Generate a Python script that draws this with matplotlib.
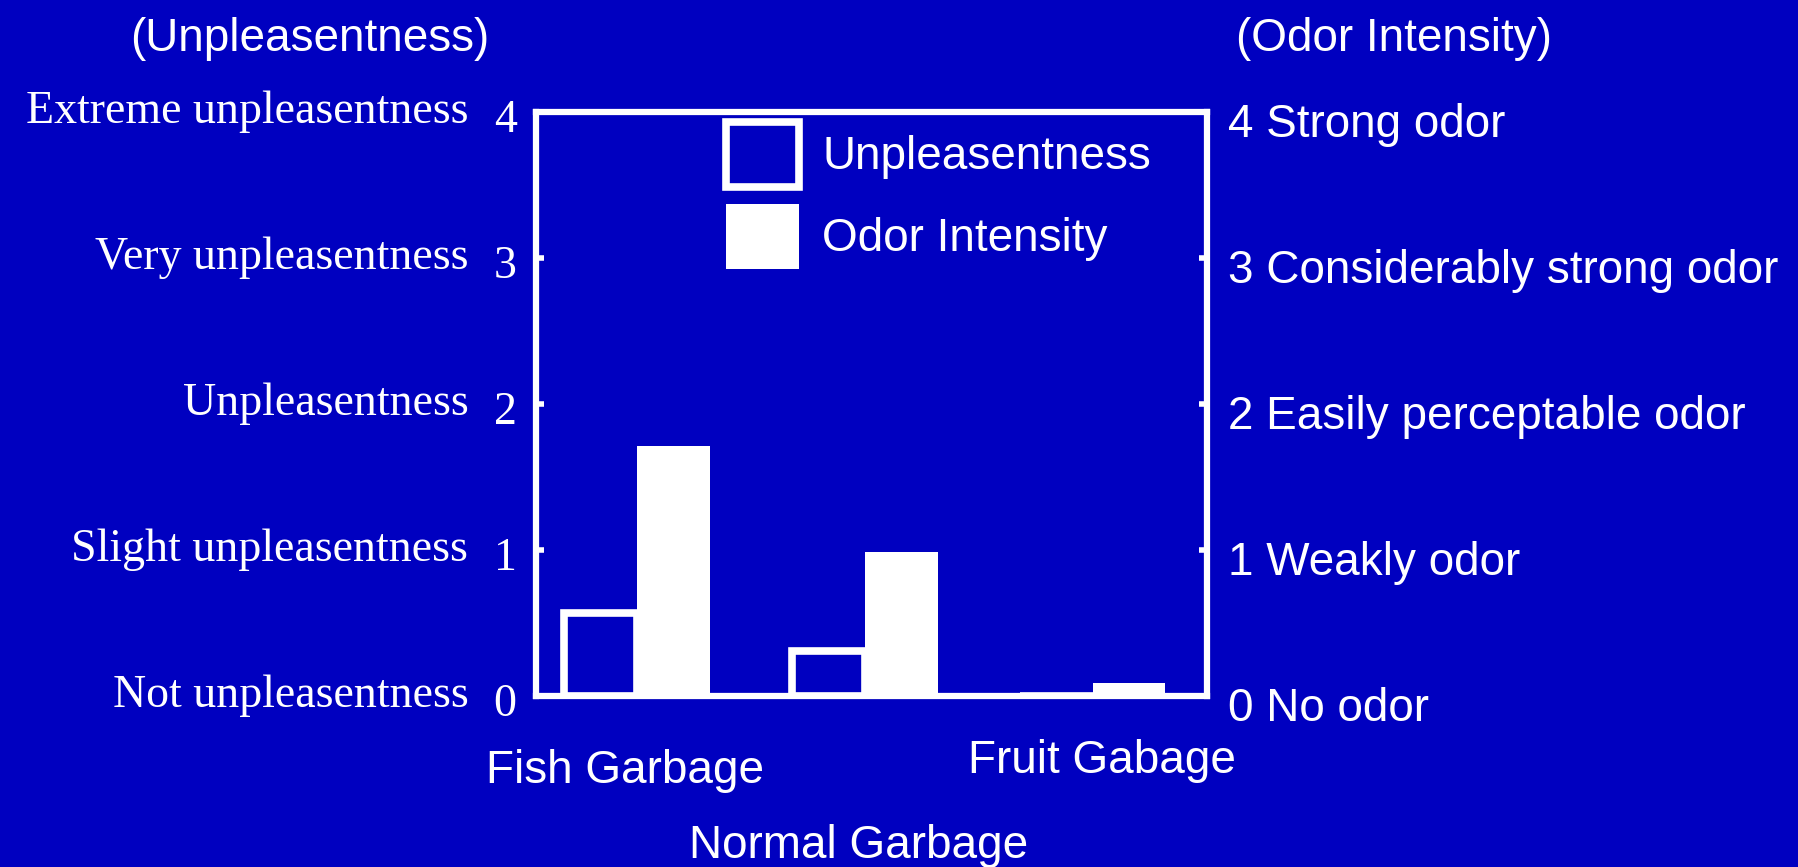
import matplotlib.pyplot as plt
import matplotlib.transforms as mtransforms
import numpy as np

# data
categories = ["Fish Garbage", "Normal Garbage", "Fruit Gabage"]
unpleasantness = [0.57, 0.31, 0.0]
odor_intensity = [1.71, 0.99, 0.09]

left_levels = ["Not unpleasentness", "Slight unpleasentness", "Unpleasentness",
               "Very unpleasentness", "Extreme unpleasentness"]
right_levels = ["No odor", "Weakly odor", "Easily perceptable odor",
                "Considerably strong odor", "Strong odor"]
levels = [0, 1, 2, 3, 4]

bg = "#0000c0"
fg = "white"
serif = "Liberation Serif"
sans = "Liberation Sans"
fs = 33

fig = plt.figure(figsize=(17.99, 8.67), dpi=100, facecolor=bg)
ax = fig.add_axes([0.298, 0.197, 0.373, 0.674], facecolor=bg)

x = np.arange(len(categories))
w = 0.32
ax.bar(x - w / 2, unpleasantness, w, color=bg, edgecolor=fg, linewidth=5.5,
       label="Unpleasentness", zorder=2)
ax.bar(x + w / 2, odor_intensity, w, color=fg, edgecolor=fg, linewidth=0,
       label="Odor Intensity", zorder=2)

ax.set_xlim(-0.444, 2.503)
ax.set_ylim(0, 4)
ax.set_xticks([])

for s in ax.spines.values():
    s.set_color(fg)
    s.set_linewidth(4.5)
    s.set_zorder(3)

# left axis: numbers + descriptions
ax.set_yticks(levels)
ax.set_yticklabels([str(v) for v in levels], fontfamily=serif, fontsize=fs, color=fg)
ax.tick_params(axis="y", direction="in", length=6, width=4, color=fg, pad=14)
shift = mtransforms.ScaledTranslation(0, -0.04, fig.dpi_scale_trans)
for t in ax.get_yticklabels():
    t.set_transform(t.get_transform() + shift)
trans_l = mtransforms.blended_transform_factory(ax.transAxes, ax.transData)
for v, lab in zip(levels, left_levels):
    ax.text(-0.101, v, lab, transform=trans_l, ha="right", va="center",
            fontfamily=serif, fontsize=fs, color=fg)

# right axis
ax2 = ax.twinx()
ax2.set_ylim(ax.get_ylim())
ax2.set_yticks(levels)
ax2.set_yticklabels([f"{v} {lab}" for v, lab in zip(levels, right_levels)],
                    fontfamily=sans, fontsize=fs, color=fg)
ax2.tick_params(axis="y", direction="in", length=6, width=4, color=fg, pad=15)
shift_r = mtransforms.ScaledTranslation(0, -0.08, fig.dpi_scale_trans)
for t in ax2.get_yticklabels():
    t.set_transform(t.get_transform() + shift_r)
for s in ax2.spines.values():
    s.set_visible(False)

# category labels, staggered
cat_pos = [(0.133, -0.128), (0.480, -0.257), (0.843, -0.111)]
for lab, (cx, cy) in zip(categories, cat_pos):
    ax.text(cx, cy, lab, transform=ax.transAxes, ha="center", va="center",
            fontfamily=sans, fontsize=fs, color=fg)

fig.text(0.172, 0.955, "(Unpleasentness)", ha="center", va="center",
         fontfamily=sans, fontsize=fs, color=fg)
fig.text(0.775, 0.955, "(Odor Intensity)", ha="center", va="center",
         fontfamily=sans, fontsize=fs, color=fg)

leg = ax.legend(loc="upper left", bbox_to_anchor=(0.283, 0.983), frameon=False,
                borderpad=0, borderaxespad=0, handlelength=1.6, handleheight=1.81,
                handletextpad=0.5, labelspacing=0.375,
                prop={"family": sans, "size": fs})
for t in leg.get_texts():
    t.set_color(fg)

fig.savefig("out.png", dpi=100, facecolor=bg)
